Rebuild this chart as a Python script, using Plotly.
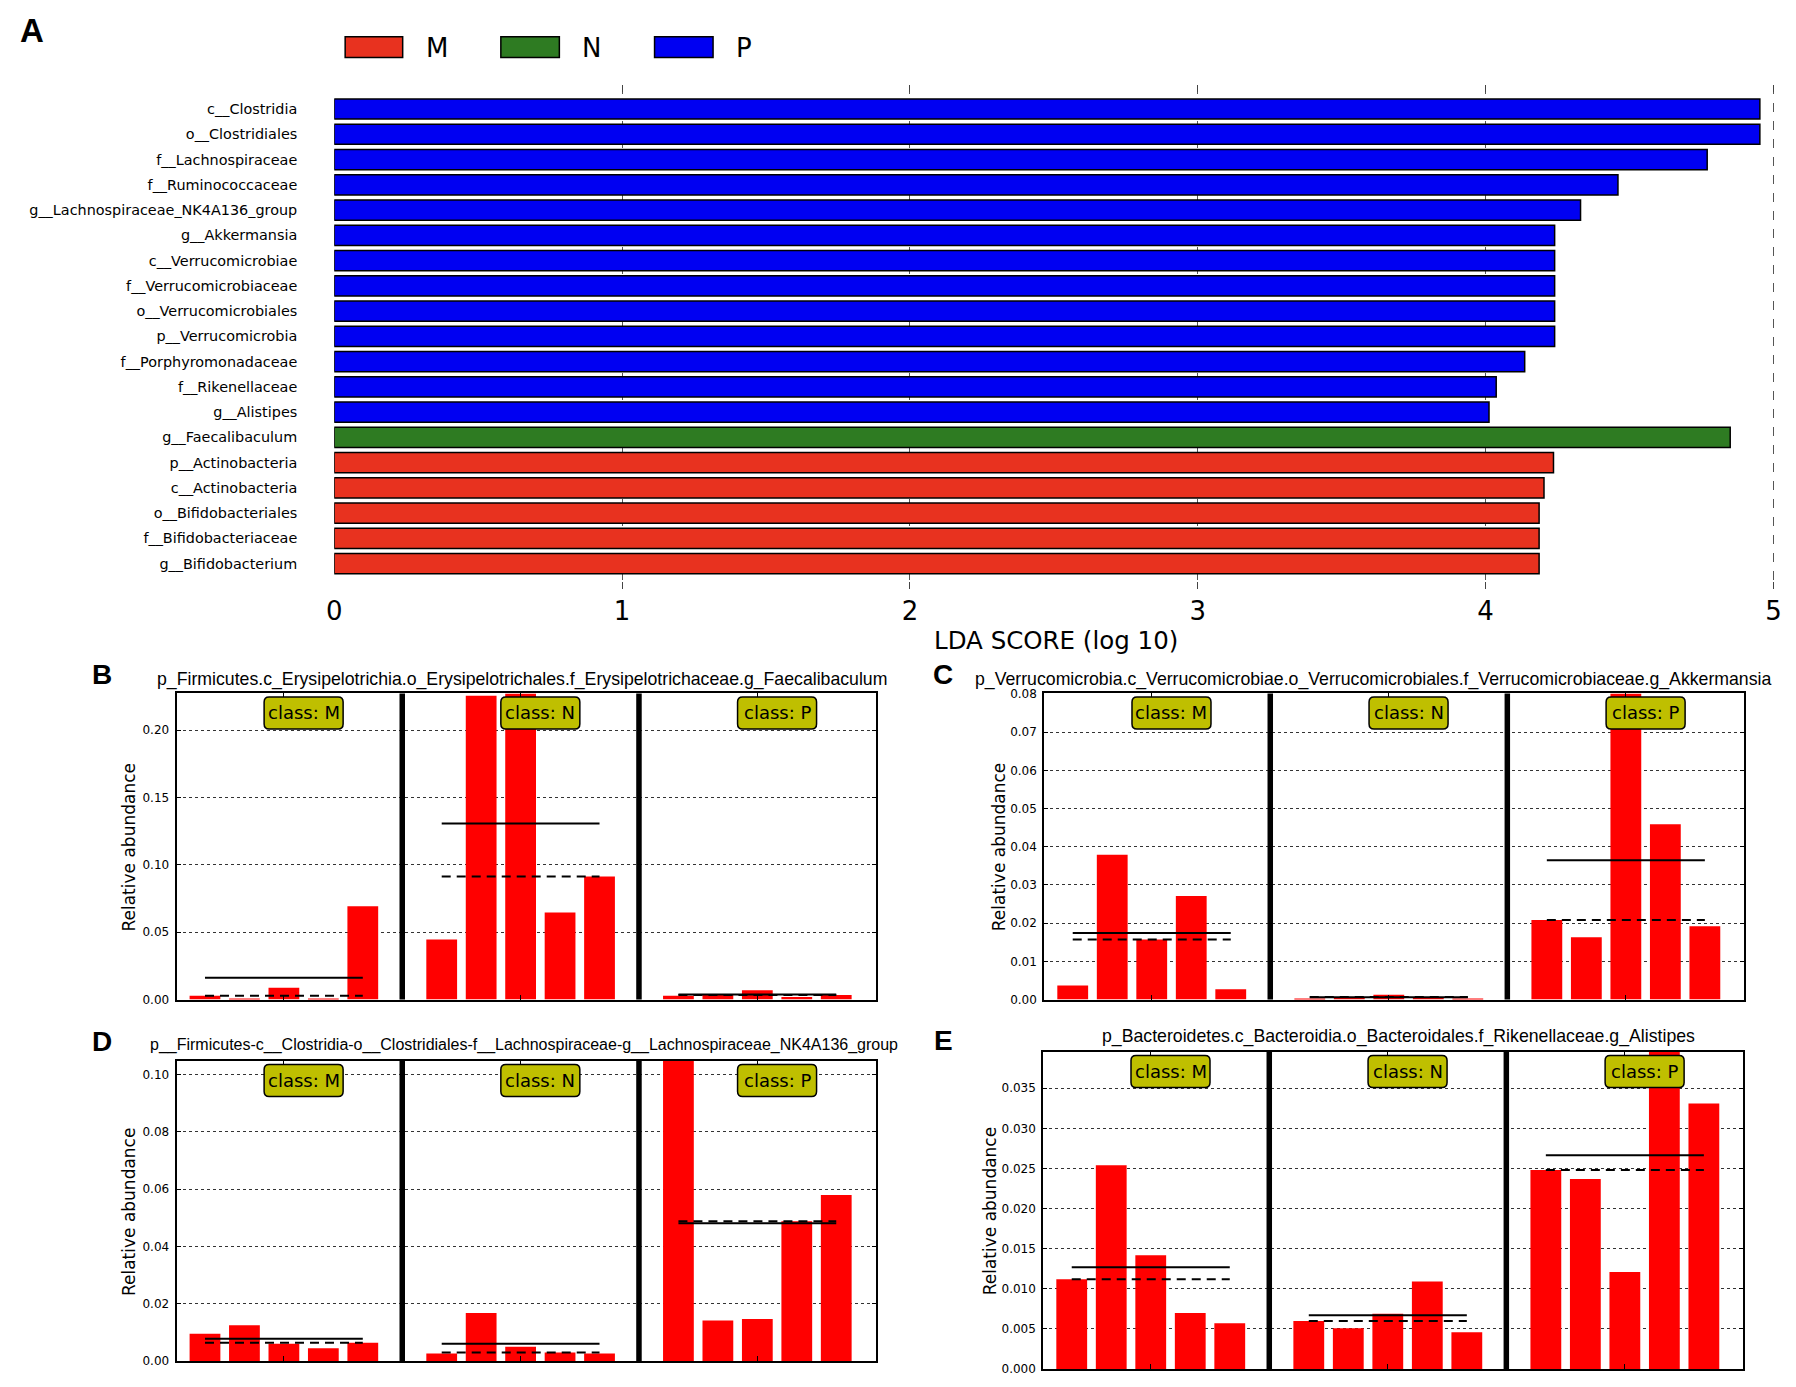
import numpy as np
import plotly.graph_objects as go

W, H = 1796, 1387

# ---------------- Panel A data (top to bottom) ----------------
lda_taxa = ["c__Clostridia", "o__Clostridiales", "f__Lachnospiraceae", "f__Ruminococcaceae",
            "g__Lachnospiraceae_NK4A136_group", "g__Akkermansia", "c__Verrucomicrobiae",
            "f__Verrucomicrobiaceae", "o__Verrucomicrobiales", "p__Verrucomicrobia",
            "f__Porphyromonadaceae", "f__Rikenellaceae", "g__Alistipes", "g__Faecalibaculum",
            "p__Actinobacteria", "c__Actinobacteria", "o__Bifidobacteriales",
            "f__Bifidobacteriaceae", "g__Bifidobacterium"]
lda_scores = [4.953, 4.953, 4.77, 4.46, 4.33, 4.24, 4.24, 4.24, 4.24, 4.24,
              4.136, 4.037, 4.012, 4.85, 4.236, 4.203, 4.186, 4.186, 4.186]
lda_groups = ["P", "P", "P", "P", "P", "P", "P", "P", "P", "P", "P", "P", "P",
              "N", "M", "M", "M", "M", "M"]
lda_ticks = [0, 1, 2, 3, 4, 5]
group_names = ["M", "N", "P"]
group_colors = {"M": "#E8321F", "N": "#2E7B22", "P": "#0000F2"}

# ---------------- Panels B-E data ----------------
class_names = ["M", "N", "P"]

B_title = "p_Firmicutes.c_Erysipelotrichia.o_Erysipelotrichales.f_Erysipelotrichaceae.g_Faecalibaculum"
B_M = [0.0029, 0.0003, 0.0088, 0.0003, 0.0693]
B_N = [0.0447, 0.2256, 0.2273, 0.0646, 0.0914]
B_P = [0.0029, 0.0039, 0.0069, 0.0020, 0.0034]
B_ticks = [0.00, 0.05, 0.10, 0.15, 0.20]

C_title = "p_Verrucomicrobia.c_Verrucomicrobiae.o_Verrucomicrobiales.f_Verrucomicrobiaceae.g_Akkermansia"
C_M = [0.0037, 0.0379, 0.0157, 0.0271, 0.0027]
C_N = [0.0001, 0.0007, 0.0013, 0.0007, 0.0003]
C_P = [0.0208, 0.0163, 0.0801, 0.0459, 0.0192]
C_ticks = [0.00, 0.01, 0.02, 0.03, 0.04, 0.05, 0.06, 0.07, 0.08]

D_title = "p__Firmicutes-c__Clostridia-o__Clostridiales-f__Lachnospiraceae-g__Lachnospiraceae_NK4A136_group"
D_M = [0.0096, 0.0125, 0.0061, 0.0045, 0.0064]
D_N = [0.0027, 0.0168, 0.0050, 0.0030, 0.0027]
D_P = [0.1047, 0.0142, 0.0147, 0.0488, 0.0580]
D_ticks = [0.00, 0.02, 0.04, 0.06, 0.08, 0.10]

E_title = "p_Bacteroidetes.c_Bacteroidia.o_Bacteroidales.f_Rikenellaceae.g_Alistipes"
E_M = [0.0112, 0.0254, 0.0142, 0.0070, 0.0057]
E_N = [0.0060, 0.0051, 0.0069, 0.0109, 0.0046]
E_P = [0.0248, 0.0237, 0.0121, 0.0395, 0.0331]
E_ticks = [0.000, 0.005, 0.010, 0.015, 0.020, 0.025, 0.030, 0.035]

# ---------------- helpers ----------------
def px(x):
    return x / W

def py(y):
    return 1 - y / H

RED = "#FF0000"
DV = "DejaVu Sans"
LS = "Liberation Sans"

fig = go.Figure()
shapes = []
annotations = []

# ---------------- Panel A ----------------
fig.add_trace(go.Bar(
    x=lda_scores, y=lda_taxa, orientation="h",
    marker=dict(color=[group_colors[g] for g in lda_groups],
                line=dict(color="black", width=1.5)),
    width=0.8, showlegend=False, xaxis="x", yaxis="y", hoverinfo="x+y"))

layout_axes = {}
layout_axes["xaxis"] = dict(
    domain=[px(329), px(1782)], range=[0, 5.006], anchor="y",
    tickvals=lda_ticks, ticktext=[str(t) for t in lda_ticks],
    tickfont=dict(family=DV, size=26, color="black"),
    ticks="inside", ticklen=7, tickwidth=1, tickcolor="#444", mirror="ticks",
    showline=False, zeroline=False, showgrid=True, griddash="dash",
    gridcolor="#555", gridwidth=1, ticklabelstandoff=4, ticklabeloverflow="allow")
layout_axes["yaxis"] = dict(
    domain=[py(589), py(80)], anchor="x", type="category",
    categoryorder="array", categoryarray=lda_taxa, range=[19.02, -0.94],
    tickfont=dict(family=DV, size=14.4, color="black"),
    ticks="", showline=False, zeroline=False, showgrid=False,
    ticklabelstandoff=36)

annotations.append(dict(text="LDA SCORE (log 10)", x=px(1057), y=py(641), xref="paper",
                        yref="paper", showarrow=False, xanchor="center", yanchor="middle",
                        font=dict(family=DV, size=24.5, color="black")))
annotations.append(dict(text="<b>A</b>", x=px(24), y=py(25), xref="paper", yref="paper",
                        showarrow=False, xanchor="center", yanchor="middle",
                        font=dict(family=LS, size=33, color="black")))

# legend (boxes + labels)
legend_pos = {"M": (340, 398, 419), "N": (497, 556, 577), "P": (652, 711, 732)}
for g in group_names:
    x0, x1, tx = legend_pos[g]
    shapes.append(dict(type="rect", xref="paper", yref="paper", x0=px(x0), x1=px(x1),
                       y0=py(52), y1=py(31), fillcolor=group_colors[g],
                       line=dict(color="black", width=1.5)))
    annotations.append(dict(text=g, x=px(tx), y=py(42), xref="paper", yref="paper",
                            showarrow=False, xanchor="left", yanchor="middle",
                            font=dict(family=DV, size=26, color="black")))

# ---------------- Panels B-E ----------------
panels = [
    # letter, title, data per class, ticks, tick fmt, frame px (l, r, t, b), title px (cx, cy),
    # title size, ylabel x px, letter px
    ("B", B_title, [B_M, B_N, B_P], B_ticks, "{:.2f}", (170, 875, 694, 1003), (518, 680), 17.7, 122, (95, 675)),
    ("C", C_title, [C_M, C_N, C_P], C_ticks, "{:.2f}", (1045, 1751, 694, 1003), (1377, 680), 17.7, 999, (943, 675)),
    ("D", D_title, [D_M, D_N, D_P], D_ticks, "{:.2f}", (170, 875, 1065, 1368), (520, 1049), 16, 122, (95, 1045)),
    ("E", E_title, [E_M, E_N, E_P], E_ticks, "{:.3f}", (1044, 1750, 1056, 1376), (1402, 1040), 17.7, 990, (943, 1044)),
]

def rounded_box(w, h, r, top):
    x0, x1 = -w / 2, w / 2
    y1 = -top
    y0 = -top - h
    return (f"M {x0 + r},{y1} L {x1 - r},{y1} Q {x1},{y1} {x1},{y1 - r} "
            f"L {x1},{y0 + r} Q {x1},{y0} {x1 - r},{y0} L {x0 + r},{y0} "
            f"Q {x0},{y0} {x0},{y0 + r} L {x0},{y1 - r} Q {x0},{y1} {x0 + r},{y1} Z")

for k, (letter, title, groups, ticks, fmt, frame, tpos, tsize, ylx, lpos) in enumerate(panels):
    n = k + 2
    xa, ya = f"x{n}", f"y{n}"
    l, r, t, b = frame

    xs, ys = [], []
    for ci, vals in enumerate(groups):
        start = ci * 6
        xs += [start + i for i in range(len(vals))]
        ys += list(vals)
    fig.add_trace(go.Bar(x=xs, y=ys, marker=dict(color=RED, line=dict(width=0)),
                         width=0.78, showlegend=False, xaxis=xa, yaxis=ya))

    for ci, vals in enumerate(groups):
        start = ci * 6
        xe = [start, start + len(vals) - 1]
        m = float(np.mean(vals))
        md = float(np.median(vals))
        fig.add_trace(go.Scatter(x=xe, y=[m, m], mode="lines",
                                 line=dict(color="black", width=2),
                                 showlegend=False, xaxis=xa, yaxis=ya, hoverinfo="y"))
        fig.add_trace(go.Scatter(x=xe, y=[md, md], mode="lines",
                                 line=dict(color="black", width=2, dash="9px,6px"),
                                 showlegend=False, xaxis=xa, yaxis=ya, hoverinfo="y"))
        # class label box + text
        cx = start + 2.5
        shapes.append(dict(type="path", xref=xa, yref=f"{ya} domain",
                           xsizemode="pixel", ysizemode="pixel",
                           xanchor=cx, yanchor=1,
                           path=rounded_box(79, 32, 5, 3.5),
                           fillcolor="#BFBF00", line=dict(color="black", width=1.5),
                           layer="above"))
        annotations.append(dict(text="class: " + class_names[ci], x=cx, y=1, xref=xa,
                                yref=f"{ya} domain", yanchor="middle", xanchor="center",
                                yshift=-19.5, showarrow=False,
                                font=dict(family=DV, size=18, color="black")))

    # class separators
    for ci in range(1, len(groups)):
        sx = ci * 6 - 1
        shapes.append(dict(type="line", xref=xa, yref=f"{ya} domain", x0=sx, x1=sx,
                           y0=0, y1=1, line=dict(color="black", width=5.5), layer="above"))

    ymax = max(max(v) for v in groups)
    layout_axes[f"xaxis{n}"] = dict(
        domain=[px(l), px(r)], range=[-0.72, 17.0], anchor=ya,
        tickvals=[2, 8, 14], ticktext=["", "", ""], ticks="inside", ticklen=5,
        tickcolor="black", mirror="ticks", showline=True, linecolor="black",
        linewidth=2, showgrid=False, zeroline=False)
    layout_axes[f"yaxis{n}"] = dict(
        domain=[py(b), py(t)], range=[0, ymax], anchor=xa,
        tickvals=ticks, ticktext=[fmt.format(v) for v in ticks],
        tickfont=dict(family=DV, size=12, color="black"),
        ticks="inside", ticklen=4, tickcolor="black", mirror="ticks",
        showline=True, linecolor="black", linewidth=2, zeroline=False,
        showgrid=True, griddash="dot", gridcolor="#333", gridwidth=1,
        ticklabelstandoff=3, ticklabeloverflow="allow")

    annotations.append(dict(text=title, x=px(tpos[0]), y=py(tpos[1]), xref="paper",
                            yref="paper", showarrow=False, xanchor="center",
                            yanchor="middle", font=dict(family=LS, size=tsize, color="black")))
    annotations.append(dict(text="Relative abundance", x=px(ylx), y=py((t + b) / 2),
                            xref="paper", yref="paper", showarrow=False, textangle=-90,
                            xanchor="center", yanchor="middle",
                            font=dict(family=DV, size=17, color="black")))
    annotations.append(dict(text=f"<b>{letter}</b>", x=px(lpos[0]), y=py(lpos[1]),
                            xref="paper", yref="paper", showarrow=False,
                            xanchor="center", yanchor="middle",
                            font=dict(family=LS, size=28, color="black")))

fig.update_layout(
    width=W, height=H, margin=dict(l=0, r=0, t=0, b=0),
    paper_bgcolor="white", plot_bgcolor="white",
    barmode="overlay", showlegend=False,
    shapes=shapes, annotations=annotations,
    **layout_axes)

# remove the page's default body margin so the figure fills the window exactly
fig.write_html("out.html",
               config={"displayModeBar": False},
               post_script="document.body.style.margin='0px';document.body.style.overflow='hidden';")
